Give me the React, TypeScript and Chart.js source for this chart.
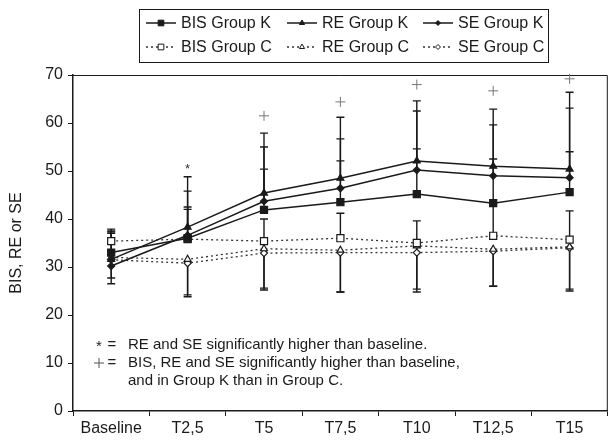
import React, { useEffect, useRef } from 'react';
import { Chart, registerables } from 'chart.js';
import { drawPoint } from 'chart.js/helpers';

Chart.register(...registerables);

const categories = ['Baseline', 'T2,5', 'T5', 'T7,5', 'T10', 'T12,5', 'T15'];

const bisK = [33.0, 36.0, 41.9, 43.5, 45.2, 43.3, 45.6];
const reK = [31.6, 38.3, 45.4, 48.5, 52.1, 51.0, 50.4];
const seK = [30.2, 36.6, 43.7, 46.4, 50.2, 49.0, 48.6];
const bisC = [35.4, 35.8, 35.4, 36.0, 35.0, 36.5, 35.7];
const reC = [32.0, 31.6, 33.8, 33.5, 34.4, 33.7, 34.2];
const seC = [31.5, 30.8, 32.9, 33.0, 33.0, 33.3, 34.0];

// error bar end values (one-sided)
const bisKErr = [37.3, 42.5, 50.4, 52.1, 54.6, 52.5, 54.0];
const reKErr = [37.9, 48.8, 57.9, 61.2, 64.6, 62.9, 66.4];
const seKErr = [37.0, 45.8, 55.0, 56.7, 62.5, 59.6, 63.1];
const bisCErr = [37.5, 42.0, 40.0, 41.2, 39.6, 43.3, 41.7];
const reCErr = [26.5, 24.2, 25.6, 24.8, 25.4, 26.0, 25.4];
const seCErr = [27.7, 23.8, 25.2, 24.8, 24.8, 26.0, 25.0];

// significance markers
const starMarks = [null, 51.0, null, null, null, null, null];
const plusMarks = [null, null, 61.5, 64.4, 68.0, 66.7, 69.2];

const yMin = 0;
const yMax = 70;
const yStep = 10;

const legendLabels = ['BIS Group K', 'RE Group K', 'SE Group K', 'BIS Group C', 'RE Group C', 'SE Group C'];
const noteLines = [
  'RE and SE significantly higher than baseline.',
  'BIS, RE and SE significantly higher than baseline,',
  'and in Group K than in Group C.',
];

const FONT = "'Liberation Sans', Arial, Helvetica, sans-serif";
const DARK = '#1a1a1a';

function makeDs(label: string, data: number[], err: number[], group: 'K' | 'C', style: string, radius: number) {
  const solid = group === 'K';
  return {
    label,
    data,
    errorTo: err,
    borderColor: solid ? DARK : '#333',
    borderWidth: solid ? 1.5 : 1.3,
    borderDash: solid ? [] : [2, 3],
    pointStyle: style,
    pointRadius: radius,
    pointBorderWidth: 1.2,
    pointBackgroundColor: solid ? DARK : '#ffffff',
    pointBorderColor: DARK,
    fill: false,
    tension: 0,
  } as any;
}

const customPlugin = {
  id: 'custom',
  beforeDatasetsDraw(chart: any) {
    const { ctx, scales } = chart;
    const x = scales.x;
    const y = scales.y;
    ctx.save();
    ctx.strokeStyle = DARK;
    ctx.lineWidth = 1.4;
    chart.data.datasets.forEach((ds: any) => {
      const errs: number[] = ds.errorTo;
      if (!errs) return;
      ds.data.forEach((v: number, i: number) => {
        const px = x.getPixelForValue(i);
        const y0 = y.getPixelForValue(v);
        const y1 = y.getPixelForValue(errs[i]);
        ctx.beginPath();
        ctx.moveTo(px, y0);
        ctx.lineTo(px, y1);
        ctx.moveTo(px - 4, y1);
        ctx.lineTo(px + 4, y1);
        ctx.stroke();
      });
    });
    ctx.restore();
  },
  afterDraw(chart: any) {
    const { ctx, chartArea, scales } = chart;
    const x = scales.x;
    const y = scales.y;
    ctx.save();
    // frame top & right
    ctx.strokeStyle = DARK;
    ctx.lineWidth = 1;
    ctx.beginPath();
    ctx.moveTo(chartArea.left, chartArea.top + 0.5);
    ctx.lineTo(chartArea.right - 0.5, chartArea.top + 0.5);
    ctx.lineTo(chartArea.right - 0.5, chartArea.bottom);
    ctx.stroke();

    // significance marks
    ctx.strokeStyle = '#777';
    ctx.lineWidth = 1;
    plusMarks.forEach((v, i) => {
      if (v == null) return;
      const px = x.getPixelForValue(i);
      const py = y.getPixelForValue(v);
      ctx.beginPath();
      ctx.moveTo(px - 5, py);
      ctx.lineTo(px + 5, py);
      ctx.moveTo(px, py - 5);
      ctx.lineTo(px, py + 5);
      ctx.stroke();
    });
    ctx.fillStyle = '#333';
    ctx.font = `13px ${FONT}`;
    ctx.textAlign = 'center';
    ctx.textBaseline = 'middle';
    starMarks.forEach((v, i) => {
      if (v == null) return;
      const px = x.getPixelForValue(i);
      const py = y.getPixelForValue(v);
      ctx.fillText('*', px, py + 3);
    });

    // notes inside plot
    const rows = [345, 363, 381];
    ctx.fillStyle = DARK;
    ctx.font = `15px ${FONT}`;
    ctx.textBaseline = 'middle';
    ctx.textAlign = 'center';
    ctx.fillText('*', 99, rows[0] + 2);
    ctx.fillText('=', 112, rows[0]);
    ctx.fillText('=', 112, rows[1]);
    ctx.strokeStyle = '#555';
    ctx.beginPath();
    ctx.moveTo(94, rows[1]);
    ctx.lineTo(104, rows[1]);
    ctx.moveTo(99, rows[1] - 5);
    ctx.lineTo(99, rows[1] + 5);
    ctx.stroke();
    ctx.textAlign = 'left';
    ctx.fillText(noteLines[0], 128, rows[0]);
    ctx.fillText(noteLines[1], 128, rows[1]);
    ctx.fillText(noteLines[2], 128, rows[2]);

    // legend
    const bx = 139, by = 9, bw = 409, bh = 53;
    ctx.strokeStyle = DARK;
    ctx.lineWidth = 1;
    ctx.strokeRect(bx + 0.5, by + 0.5, bw, bh);
    const colX = [146, 287, 423];
    const rowY = [23, 47];
    ctx.font = `16px ${FONT}`;
    ctx.textBaseline = 'middle';
    ctx.textAlign = 'left';
    chart.data.datasets.forEach((ds: any, i: number) => {
      const col = i % 3;
      const row = Math.floor(i / 3);
      const sx = colX[col];
      const sy = rowY[row];
      ctx.save();
      ctx.strokeStyle = ds.borderColor;
      ctx.lineWidth = ds.borderWidth;
      ctx.setLineDash(ds.borderDash || []);
      ctx.beginPath();
      ctx.moveTo(sx, sy);
      ctx.lineTo(sx + 30, sy);
      ctx.stroke();
      ctx.setLineDash([]);
      ctx.fillStyle = ds.pointBackgroundColor;
      ctx.strokeStyle = ds.pointBorderColor;
      ctx.lineWidth = 1;
      drawPoint(ctx, { pointStyle: ds.pointStyle, radius: Math.max(ds.pointRadius - 1, 2.5), rotation: 0, borderWidth: 1 } as any, sx + 15, sy);
      ctx.restore();
      ctx.fillStyle = DARK;
      ctx.fillText(ds.label, sx + 35, sy + 1);
    });
    ctx.restore();
  },
};

export default function App() {
  const ref = useRef<HTMLCanvasElement>(null);
  useEffect(() => {
    document.body.style.margin = '0';
    const canvas = ref.current!;
    const chart = new Chart(canvas, {
      type: 'line',
      data: {
        labels: categories,
        datasets: [
          makeDs(legendLabels[0], bisK, bisKErr, 'K', 'rect', 5),
          makeDs(legendLabels[1], reK, reKErr, 'K', 'triangle', 4),
          makeDs(legendLabels[2], seK, seKErr, 'K', 'rectRot', 3.5),
          makeDs(legendLabels[3], bisC, bisCErr, 'C', 'rect', 5),
          makeDs(legendLabels[4], reC, reCErr, 'C', 'triangle', 4),
          makeDs(legendLabels[5], seC, seCErr, 'C', 'rectRot', 3.5),
        ],
      },
      options: {
        responsive: false,
        animation: false,
        layout: { padding: { top: 75, right: 1, left: 0, bottom: 0 } },
        plugins: {
          legend: { display: false },
          tooltip: { enabled: false },
          title: { display: false },
        },
        scales: {
          x: {
            type: 'category',
            offset: true,
            grid: { offset: true, drawOnChartArea: false, drawTicks: true, tickLength: 5, color: DARK, lineWidth: 1 },
            border: { display: true, color: DARK, width: 1.5 },
            ticks: { color: DARK, font: { size: 16, family: FONT }, padding: 3, maxRotation: 0, autoSkip: false },
            afterFit: (s: any) => { s.height = 29; },
          },
          y: {
            min: yMin,
            max: yMax,
            grid: { drawOnChartArea: false, drawTicks: true, tickLength: 5, color: DARK, lineWidth: 1 },
            border: { display: true, color: DARK, width: 1.5 },
            ticks: { stepSize: yStep, color: DARK, font: { size: 16, family: FONT }, padding: 5 },
            title: { display: true, text: 'BIS, RE or SE', color: DARK, font: { size: 16, family: FONT }, padding: { top: 7, bottom: 0 } },
            afterFit: (s: any) => { s.width = 73; },
          },
        },
      } as any,
      plugins: [customPlugin],
    });
    return () => chart.destroy();
  }, []);
  return (
    <div style={{ width: 614, height: 440 }}>
      <canvas ref={ref} width={614} height={440} />
    </div>
  );
}
